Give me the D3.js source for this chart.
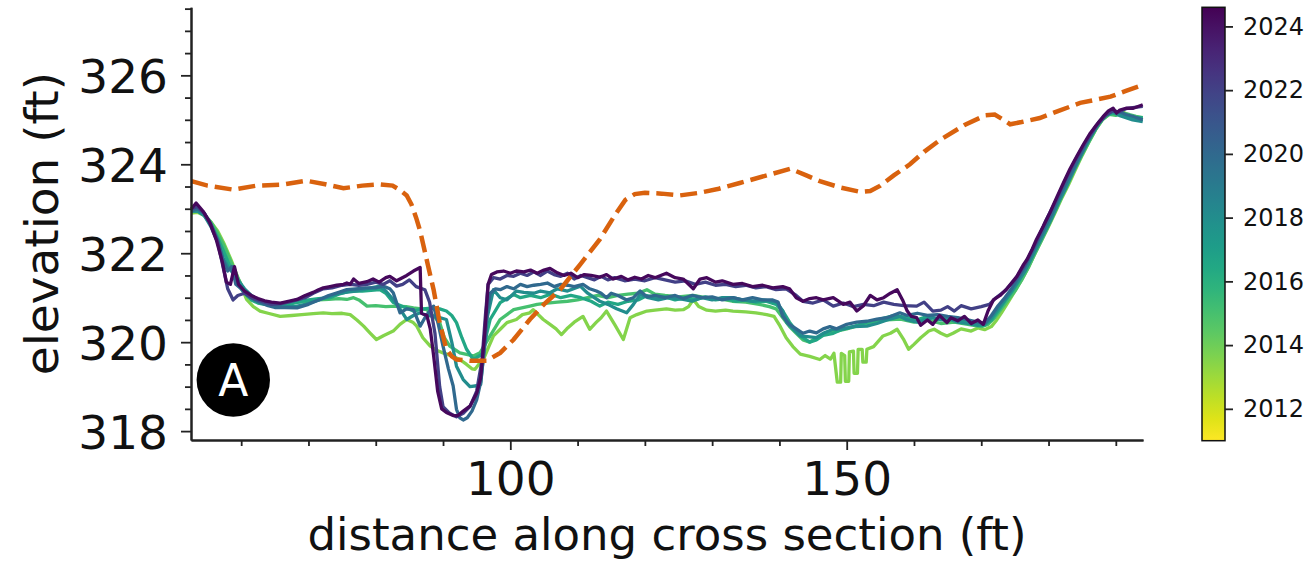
<!DOCTYPE html>
<html>
<head>
<meta charset="utf-8">
<script src="https://cdn.jsdelivr.net/npm/d3@7"></script>
<style>
  body { margin: 0; background: #fff; }
  svg { display: block; }
  svg text { font-family: 'DejaVu Sans', sans-serif; }
  .axis path, .axis line { stroke: #222; }
  .axis path { stroke-width: 2; }
  .axis line { stroke-width: 1.8; }
  .axis text { fill: #111; }
</style>
</head>
<body>
<svg id="chart" width="1309" height="565"></svg>
<script>
// survey years shown by the viridis colour bar
const yearRange = [2011, 2024.6];
const colorbarTicks = [2012, 2014, 2016, 2018, 2020, 2022, 2024];
const yMajorTicks = [318, 320, 322, 324, 326];
const xMajorTicks = [100, 150];
const xMinorTicks = [60, 70, 80, 90, 110, 120, 130, 140, 160, 170, 180, 190];

// dashed reference profile [distance, elevation]
const reference = [[52.6,323.62],[55,323.52],[58.8,323.43],[62.3,323.52],[66,323.54],[69.7,323.63],[72.5,323.55],[75.2,323.46],[78,323.52],[80.6,323.55],[82.5,323.52],[83.6,323.42],[84.6,323.3],[85.3,323.1],[86,322.8],[86.6,322.5],[87.2,322.1],[87.8,321.7],[88.6,321.18],[89.5,320.44],[90.5,319.84],[91.3,319.68],[92,319.61],[94,319.58],[96.5,319.58],[98.5,319.76],[100.5,320.06],[102.9,320.51],[105,320.85],[107.4,321.18],[110.4,321.75],[113.3,322.31],[115.6,322.87],[117.1,323.2],[118.5,323.33],[120,323.36],[122.5,323.34],[125.2,323.3],[128.2,323.36],[131,323.45],[134.1,323.58],[138.6,323.77],[141.6,323.9],[144,323.75],[146,323.62],[149,323.48],[152,323.38],[153.5,323.4],[155,323.52],[157,323.75],[159.4,324],[161.5,324.28],[163.9,324.55],[167.6,324.89],[170.6,325.1],[172,325.12],[173.3,325],[174.3,324.9],[176,324.95],[178.7,325.04],[181.5,325.2],[184.7,325.38],[189.2,325.52],[191.5,325.65],[194,325.78]];

// surveyed cross sections [distance, elevation]
const s2013 = [[52.6,322.9],[53.5,322.92],[54.5,322.85],[55.5,322.7],[56.5,322.5],[57.5,322.2],[58.5,321.85],[59.5,321.45],[60.8,320.96],[61.8,320.8],[62.8,320.7],[64,320.65],[65.8,320.58],[67.5,320.6],[69,320.62],[70.7,320.64],[72.2,320.66],[73.5,320.64],[75,320.65],[76.2,320.62],[77.2,320.5],[78.2,320.36],[79.2,320.2],[80.1,320.06],[81.2,320.15],[82.6,320.25],[83.6,320.4],[84.6,320.51],[85.5,320.45],[86.1,320.36],[87,320.1],[88.1,319.91],[89.3,319.8],[90,319.76],[91.5,319.68],[92.5,319.61],[93.5,319.5],[94.3,319.4],[94.75,319.39],[95.3,319.5],[96,319.61],[96.8,319.9],[97.5,320.14],[98.5,320.29],[99.5,320.44],[100.9,320.51],[101.8,320.62],[102.9,320.66],[103.4,320.73],[104.9,320.51],[105.9,320.4],[106.8,320.3],[107.6,320.17],[108.4,320.3],[109.5,320.45],[110.8,320.58],[111.8,320.29],[112.8,320.45],[113.5,320.55],[114.3,320.7],[115.5,320.4],[116.8,320.06],[117.8,320.55],[118.8,320.62],[120.3,320.7],[121.5,320.72],[123.2,320.75],[124.5,320.72],[125.7,320.73],[126.5,320.8],[127.2,320.96],[128,320.8],[129.2,320.72],[130.5,320.7],[132,320.72],[133.1,320.7],[135,320.68],[136.5,320.66],[138.1,320.62],[139.2,320.58],[140.1,320.36],[141,320.1],[142,319.9],[143.1,319.73],[144.5,319.68],[146,319.61],[146.8,319.7],[147.6,319.62],[148.1,319.75],[148.6,319.1],[149.1,319.1],[149.2,319.75],[149.7,319.7],[149.8,319.12],[150.3,319.12],[150.4,319.78],[151,319.8],[151.1,319.3],[151.6,319.3],[151.7,319.84],[152.3,319.84],[152.4,319.55],[152.9,319.55],[153,319.84],[154,319.9],[155.4,320.14],[156.5,320.2],[157.5,320.29],[158.5,320.05],[159.2,319.84],[160,319.95],[161,320.1],[162.2,320.25],[163,320.29],[164,320.2],[164.9,320.14],[165.8,320.2],[167,320.3],[168.5,320.25],[169.5,320.32],[170.5,320.28],[171.5,320.35],[172.3,320.5],[173,320.66],[174,320.9],[175,321.15],[176,321.4],[177,321.68],[178,322],[179,322.3],[180,322.6],[181,322.92],[182,323.25],[183,323.55],[184,323.88],[185,324.2],[186,324.5],[187,324.78],[188,325],[189,325.12],[190,325.15],[191,325.18],[192,325.1],[193,325.05],[194,325.02]];

const s2015 = [[52.6,322.95],[53.5,322.95],[54.5,322.88],[55.5,322.7],[56.5,322.45],[57.5,322.15],[58.5,321.8],[59.5,321.45],[60.5,321.15],[61.8,320.96],[63,320.9],[64.5,320.88],[65.8,320.85],[67,320.88],[68.5,320.9],[70,320.92],[71.5,320.95],[73,320.96],[74.5,320.98],[75.7,320.96],[76.7,321],[77.5,320.95],[78.7,320.81],[80,320.82],[81.5,320.8],[83.1,320.81],[84.5,320.8],[85.6,320.77],[87.6,320.73],[88.5,320.6],[89.5,320.44],[90.2,320.1],[91,319.91],[92.5,319.76],[94.5,319.69],[95.5,319.76],[97,320.14],[98.5,320.51],[100.5,320.73],[102.9,320.81],[104,320.85],[105.5,320.88],[107,320.9],[108.5,320.92],[110,320.95],[111.5,321],[113,321.05],[114.5,321],[116,321.05],[117.5,321.08],[119,321.1],[120.3,321.18],[121.5,321.08],[123,321.05],[125,321.02],[127.2,321.05],[129,321],[131,320.98],[133,320.92],[135,320.9],[137,320.85],[138.5,320.8],[139.5,320.75],[140.5,320.55],[141.5,320.35],[142.5,320.2],[143.5,320.05],[144.5,320],[145.5,320.1],[147,320.2],[148.5,320.25],[150,320.3],[152,320.38],[154,320.45],[156,320.5],[158,320.52],[160,320.45],[162,320.5],[164,320.42],[166,320.45],[168,320.4],[170,320.35],[171,320.4],[172,320.55],[173,320.75],[174,320.95],[175,321.15],[176,321.4],[177,321.68],[178,322],[179,322.3],[180,322.62],[181,322.95],[182,323.28],[183,323.6],[184,323.92],[185,324.22],[186,324.5],[187,324.78],[188,325],[189,325.12],[190,325.1],[191,325.15],[192,325.12],[193,325.08],[194,325.05]];

const s2016 = [[52.6,322.95],[53.5,322.95],[54.5,322.85],[55.5,322.65],[56.5,322.35],[57.5,322],[58.5,321.65],[59.5,321.3],[60.5,321.1],[61.5,320.95],[62.5,320.88],[63.5,320.85],[65,320.82],[65.8,320.81],[67,320.85],[68.5,320.9],[70,320.95],[71.5,320.98],[73.2,321],[74.5,321.08],[76.2,321.15],[78,321.15],[80.6,321.18],[81.5,321.1],[82.6,320.89],[84,320.8],[85.6,320.7],[87,320.75],[88.6,320.77],[89.5,320.75],[90.5,320.7],[91.3,320.6],[92,320.44],[92.8,320.1],[93.5,319.84],[94.5,319.61],[95.5,319.7],[96,319.76],[96.5,320.2],[97,320.51],[98.5,320.89],[100.5,321.07],[101.5,321],[103,321.05],[104.5,321],[106,321.08],[107.5,321],[109,321.05],[110.5,321],[112,320.92],[113.3,320.81],[114.5,320.9],[116,320.85],[117.5,320.92],[119,320.95],[120.3,321.05],[121.5,321],[123,321.02],[124.5,320.95],[126,321],[127.5,320.96],[129,321.02],[130.5,320.95],[132,320.98],[133.5,320.92],[135,320.95],[136.5,320.9],[138,320.92],[139.5,320.85],[140.5,320.7],[141.5,320.45],[142.5,320.25],[143.5,320.1],[144.5,320],[145.5,320.05],[146.5,320.15],[148,320.2],[149.5,320.3],[151,320.35],[153,320.45],[155,320.52],[157,320.6],[159,320.55],[160.5,320.5],[162,320.58],[163.5,320.52],[165,320.55],[166.5,320.48],[168,320.45],[169.5,320.4],[170.5,320.38],[171.5,320.5],[172.5,320.7],[173.5,320.92],[174.5,321.12],[175.5,321.35],[176.5,321.62],[177.5,321.92],[178.5,322.22],[179.5,322.52],[180.5,322.85],[181.5,323.18],[182.5,323.5],[183.5,323.82],[184.5,324.12],[185.5,324.42],[186.5,324.7],[187.5,324.95],[188.5,325.1],[189.5,325.15],[190.5,325.15],[191.5,325.1],[192.5,325.05],[194,325.05]];

const s2018 = [[52.6,322.95],[53.5,322.95],[54.5,322.85],[55.5,322.6],[56.5,322.25],[57.3,321.9],[58,321.7],[58.8,321.55],[59.5,321.4],[60.5,321.2],[61.5,321.05],[62.5,320.95],[63.5,320.88],[65,320.83],[66.5,320.8],[68,320.8],[69.5,320.85],[71,320.92],[72.5,321],[74,321.08],[75.5,321.12],[77,321.15],[78.5,321.2],[80.6,321.26],[81.5,321.15],[82.6,320.96],[83.6,320.75],[84.6,320.51],[85.6,320.6],[86.6,320.66],[87.6,320.6],[88.6,320.58],[89.5,320.55],[90.5,320.51],[91.3,320],[92,319.46],[93,319.16],[94,319],[95,319.02],[95.6,319.05],[96,319.7],[96.5,320.51],[97.5,321.18],[98.5,321],[99.5,320.95],[100.9,321.15],[102,321.12],[103.5,321.1],[104.5,321.15],[105.9,321.11],[107,321.2],[108.5,321.15],[110.4,321.26],[111.5,321.1],[113.3,320.92],[114.5,320.85],[115.8,320.75],[117.3,320.66],[118.3,320.85],[119.3,321.07],[120.5,321],[122,320.95],[123.5,321],[125.7,320.96],[127,320.92],[128.5,321],[130,320.95],[131.5,321],[133.1,321],[134.5,320.95],[136,320.92],[137.5,320.95],[139.6,320.9],[140.5,320.7],[141.1,320.44],[142,320.3],[143.1,320.14],[144.5,320.12],[145.5,320.1],[146.5,320.2],[148,320.29],[149.5,320.3],[151,320.35],[153,320.36],[154.5,320.42],[156,320.5],[157.9,320.58],[159,320.5],[160.5,320.45],[162.8,320.55],[164,320.5],[165.4,320.51],[166.5,320.45],[168,320.42],[169.5,320.38],[170.5,320.4],[171.5,320.55],[172.5,320.75],[173.5,320.95],[174.5,321.15],[175.5,321.38],[176.5,321.6],[177.5,321.9],[178.5,322.2],[179.5,322.5],[180.5,322.8],[181.5,323.15],[182.5,323.45],[183.5,323.78],[184.5,324.1],[185.5,324.4],[186.5,324.68],[187.5,324.92],[188.5,325.1],[189.5,325.18],[190.5,325.1],[191.5,325.05],[192.5,325],[194,324.96]];

const s2020 = [[52.6,322.95],[53.5,323],[54.5,322.9],[55.5,322.65],[56.5,322.3],[57.3,321.85],[58,321.6],[58.6,321.7],[59.2,321.3],[60,321.2],[61,321.05],[62,320.95],[63,320.88],[64,320.82],[65,320.78],[66.5,320.78],[68.3,320.77],[70,320.85],[71.5,320.95],[73,321.05],[74.5,321.12],[75.7,321.18],[77,321.2],[78.5,321.22],[80,321.22],[81.1,321.26],[82.1,321.2],[82.6,321.11],[83.6,320.66],[84.6,320.75],[85.6,320.73],[86.6,320.36],[87.5,320.6],[88.6,320.81],[89.3,320.4],[90,319.91],[90.8,319.4],[91.5,319.02],[92,318.49],[92.5,318.3],[93,318.25],[93.6,318.3],[94.3,318.45],[95,318.7],[95.6,319.1],[96.2,319.9],[96.6,320.7],[97,321.1],[97.8,321.2],[98.5,321.18],[99.5,321.25],[100.5,321.2],[101.5,321.3],[102.5,321.25],[103.5,321.28],[104.5,321.3],[105.5,321.33],[106.5,321.25],[107.5,321.3],[108.5,321.28],[109.5,321.25],[110.8,321.3],[111.8,321.2],[112.8,321.15],[113.5,321.1],[114.3,321],[115,321.1],[116,321.05],[117.3,320.95],[118.3,321],[119.3,321.15],[120.3,321.02],[121.5,321.05],[123,321],[124.5,321.05],[125.7,320.98],[127,321.05],[128.5,321],[130,321.02],[131.5,320.95],[133.1,321],[134.5,320.95],[136,321],[137.5,320.95],[139,320.95],[139.8,320.9],[140.5,320.58],[141.5,320.4],[142.5,320.3],[143.5,320.2],[144.5,320.25],[145.5,320.21],[146.5,320.3],[147.5,320.35],[148.5,320.3],[150,320.4],[151.5,320.45],[153,320.47],[154.5,320.52],[156,320.55],[157.9,320.66],[159,320.6],[160.5,320.65],[162,320.6],[163.5,320.62],[165,320.58],[166.5,320.55],[168,320.5],[169.5,320.45],[170.5,320.42],[171.5,320.6],[172.5,320.82],[173.5,321],[174.5,321.2],[175.5,321.45],[176.5,321.7],[177.5,322],[178.5,322.3],[179.5,322.6],[180.5,322.9],[181.5,323.25],[182.5,323.55],[183.5,323.85],[184.5,324.15],[185.5,324.45],[186.5,324.7],[187.5,324.95],[188.5,325.12],[189.5,325.2],[190.5,325.18],[191.5,325.12],[192.5,325.08],[194,325]];

const s2022 = [[52.6,323],[53.5,323.05],[54.5,322.9],[55.5,322.65],[56.5,322.25],[57.3,321.7],[58,321.2],[58.8,320.95],[59.5,321.05],[60.5,321.1],[61.5,321],[62.5,320.95],[63.5,320.9],[64.5,320.85],[65.8,320.86],[67,320.9],[68.3,320.95],[69.5,321],[70.7,321.1],[72.2,321.2],[73.5,321.22],[75,321.28],[76.2,321.3],[77.5,321.28],[78.7,321.3],[80,321.35],[81.1,321.3],[82.1,321.38],[83.1,321.26],[84,321.3],[85,321.4],[86,321.25],[87.3,321.18],[88,320.9],[88.8,320.2],[89.5,319],[90,318.55],[91,318.4],[92,318.32],[93,318.4],[94,318.55],[95,318.9],[95.8,319.6],[96.3,320.6],[96.7,321.3],[97.5,321.45],[98.5,321.42],[99.5,321.5],[100.5,321.48],[101.5,321.55],[102.5,321.5],[103.5,321.58],[104.5,321.5],[105.5,321.6],[106.5,321.52],[107.5,321.48],[108.5,321.55],[109.5,321.42],[110.5,321.5],[111.5,321.45],[112.5,321.4],[113.5,321.48],[114.5,321.4],[115.5,321.45],[117,321.38],[118.5,321.42],[120,321.38],[121.5,321.45],[123,321.4],[124.5,321.35],[126,321.38],[127.5,321.3],[129,321.35],[130.5,321.28],[132,321.3],[133.5,321.25],[135,321.28],[136.5,321.22],[138,321.25],[139.5,321.18],[141,321.2],[142.5,321.05],[143.5,320.92],[145,320.88],[146.5,320.95],[148,320.81],[149.5,320.88],[151,320.8],[152.5,320.85],[154,320.82],[155.5,320.9],[157,320.85],[158.5,320.82],[160.4,320.81],[161.5,320.9],[162.8,320.7],[164,320.72],[165,320.8],[166,320.7],[167,320.82],[168.5,320.75],[170,320.8],[171.2,320.85],[172.2,321],[173.5,321.15],[175,321.4],[176.5,321.75],[178,322.2],[179.5,322.7],[181,323.15],[182.5,323.65],[184,324.1],[185.5,324.5],[187,324.85],[188.5,325.1],[189.5,325.2],[190.5,325.18],[191.5,325.25],[192.8,325.28],[194,325.3]];

const s2024 = [[52.6,323],[53.3,323.13],[54.3,322.95],[55.3,322.7],[56.3,322.3],[57.2,321.8],[57.8,321.35],[58.4,321.3],[59,321.7],[59.6,321.3],[60.5,321.15],[61.5,321.05],[62.5,320.98],[63.5,320.93],[64.5,320.9],[65.8,320.88],[67,320.92],[68.3,320.96],[69.5,321.05],[70.7,321.12],[71.5,321.18],[72.2,321.22],[73.2,321.25],[74.2,321.28],[75.2,321.3],[75.7,321.33],[76.2,321.3],[76.7,321.42],[77.5,321.32],[78.7,321.36],[79.6,321.42],[80.5,321.35],[81.5,321.45],[82.1,321.48],[83.1,321.38],[83.6,321.42],[84.6,321.5],[85.6,321.6],[86.6,321.68],[86.8,320.65],[87.6,320.6],[88.1,320.3],[88.6,319.7],[89.2,318.9],[89.8,318.5],[90.5,318.42],[91.5,318.35],[92.2,318.35],[93,318.45],[94,318.56],[95,318.85],[95.6,319.2],[96.2,320.2],[96.7,321.3],[97.2,321.52],[98,321.58],[99,321.6],[100,321.55],[100.9,321.6],[102,321.58],[103,321.62],[104,321.55],[105,321.62],[105.9,321.66],[107,321.56],[108,321.5],[109,321.55],[110,321.45],[111,321.52],[112,321.5],[113.3,321.46],[114.3,321.52],[115.3,321.42],[116.5,321.48],[117.5,321.4],[118.5,321.46],[119.5,321.42],[120.5,321.5],[121.5,321.45],[123.2,321.55],[124.5,321.45],[125.7,321.42],[127.2,321.2],[128.2,321.42],[129.2,321.45],[130.5,321.35],[131.5,321.38],[133.1,321.3],[134.5,321.32],[136,321.25],[137.5,321.28],[139,321.22],[140.5,321.25],[141.5,321.2],[142.5,321],[143.5,320.92],[144.5,320.98],[145.5,321],[146.5,320.95],[148,321],[149.5,320.85],[150.5,320.9],[151.5,320.7],[152.5,320.82],[153.5,321.05],[154.5,320.95],[155.5,321],[156.5,321.1],[157.5,321.18],[158.3,320.95],[159,320.7],[159.6,320.58],[160.4,320.55],[161,320.38],[162,320.5],[162.8,320.4],[163.8,320.6],[164.9,320.44],[165.5,320.55],[166.5,320.48],[167.5,320.58],[168.5,320.42],[169.5,320.5],[170.3,320.4],[171,320.7],[171.8,320.95],[172.8,321.05],[173.8,321.2],[175.3,321.48],[176.3,321.75],[176.8,321.86],[177.6,322.1],[178.2,322.31],[179.2,322.6],[180.2,322.91],[181.2,323.25],[182.2,323.58],[183.2,323.9],[184.2,324.18],[185.2,324.45],[186.2,324.7],[187.2,324.9],[188.1,325.07],[188.9,325.2],[189.6,325.26],[190.1,325.15],[190.6,325.22],[191.5,325.26],[192.6,325.26],[193.3,325.3],[194,325.34]];

const surveys = [
  { year: 2013.5, values: s2013 },
  { year: 2015, values: s2015 },
  { year: 2016.5, values: s2016 },
  { year: 2018, values: s2018 },
  { year: 2020, values: s2020 },
  { year: 2022, values: s2022 },
  { year: 2024.3, values: s2024 },
];

const font = "'DejaVu Sans', sans-serif";
const svg = d3.select('#chart');
const plot = { left: 191, right: 1143, top: 7.3, bottom: 440 };

const xscale = d3.scaleLinear().domain([52.54, 194.04]).range([plot.left, plot.right]);
const yscale = d3.scaleLinear().domain([317.8, 327.53]).range([plot.bottom, plot.top]);
const color = d3.scaleSequential(d3.interpolateViridis).domain([yearRange[1], yearRange[0]]);

const line = d3.line()
  .x(d => xscale(d[0]))
  .y(d => yscale(d[1]));

// survey lines, oldest first so the newest sit on top
svg.append('g').selectAll('path')
  .data(surveys)
  .join('path')
  .attr('d', d => line(d.values))
  .attr('fill', 'none')
  .attr('stroke', d => color(d.year))
  .attr('stroke-width', 3.3)
  .attr('stroke-linejoin', 'round');

svg.append('path')
  .attr('d', line(reference))
  .attr('fill', 'none')
  .attr('stroke', '#d9620e')
  .attr('stroke-width', 4.5)
  .attr('stroke-dasharray', '17,7');

// axes: majors with labels, minors without
const yMinor = d3.range(318, 327.51, 0.5).filter(v => !yMajorTicks.includes(v));
svg.append('g').attr('class', 'axis')
  .attr('transform', `translate(${plot.left},0)`)
  .call(d3.axisLeft(yscale).tickValues(yMinor).tickSize(6).tickSizeOuter(0).tickFormat(''));
svg.append('g').attr('class', 'axis')
  .attr('transform', `translate(${plot.left},0)`)
  .call(d3.axisLeft(yscale).tickValues(yMajorTicks).tickSize(10).tickSizeOuter(0).tickPadding(13).tickFormat(d3.format('d')))
  .attr('font-family', font)
  .selectAll('text').attr('font-size', 47).attr('dy', '0.36em');

svg.append('g').attr('class', 'axis')
  .attr('transform', `translate(0,${plot.bottom})`)
  .call(d3.axisBottom(xscale).tickValues(xMinorTicks).tickSize(6).tickSizeOuter(0).tickFormat(''));
svg.append('g').attr('class', 'axis')
  .attr('transform', `translate(0,${plot.bottom})`)
  .call(d3.axisBottom(xscale).tickValues(xMajorTicks).tickSize(10).tickSizeOuter(0).tickPadding(12).tickFormat(d3.format('d')))
  .attr('font-family', font)
  .selectAll('text').attr('font-size', 47);

svg.append('text')
  .attr('x', (plot.left + plot.right) / 2)
  .attr('y', 550)
  .attr('text-anchor', 'middle')
  .attr('font-size', 45)
  .attr('fill', '#111')
  .text('distance along cross section (ft)');

svg.append('text')
  .attr('transform', `translate(58,${(plot.top + plot.bottom) / 2}) rotate(-90)`)
  .attr('text-anchor', 'middle')
  .attr('font-size', 47)
  .attr('fill', '#111')
  .text('elevation (ft)');

// panel badge
const badge = svg.append('g').attr('transform', 'translate(233.3,380)');
badge.append('circle').attr('r', 36.7).attr('fill', '#000');
badge.append('text')
  .attr('text-anchor', 'middle')
  .attr('dy', '0.36em')
  .attr('font-size', 44)
  .attr('fill', '#fff')
  .text('A');

// colour bar
const bar = { x: 1202, width: 23 };
const cscale = d3.scaleLinear().domain(yearRange).range([plot.bottom + 0.7, plot.top]);
const grad = svg.append('defs').append('linearGradient')
  .attr('id', 'viridis')
  .attr('x1', 0).attr('y1', 1).attr('x2', 0).attr('y2', 0);
grad.selectAll('stop')
  .data(d3.range(0, 1.0001, 0.05))
  .join('stop')
  .attr('offset', t => t)
  .attr('stop-color', t => color(yearRange[0] + t * (yearRange[1] - yearRange[0])));

svg.append('rect')
  .attr('x', bar.x).attr('y', cscale(yearRange[1]))
  .attr('width', bar.width)
  .attr('height', cscale(yearRange[0]) - cscale(yearRange[1]))
  .attr('fill', 'url(#viridis)')
  .attr('stroke', '#111')
  .attr('stroke-width', 1.5);

const cax = svg.append('g').attr('class', 'axis')
  .attr('transform', `translate(${bar.x + bar.width},0)`)
  .call(d3.axisRight(cscale).tickValues(colorbarTicks).tickSize(8).tickPadding(10).tickSizeOuter(0).tickFormat(d3.format('d')))
  .attr('font-family', font);
cax.select('.domain').remove();
cax.selectAll('line').attr('stroke-width', 1.5);
cax.selectAll('text').attr('font-size', 24);
</script>
</body>
</html>
